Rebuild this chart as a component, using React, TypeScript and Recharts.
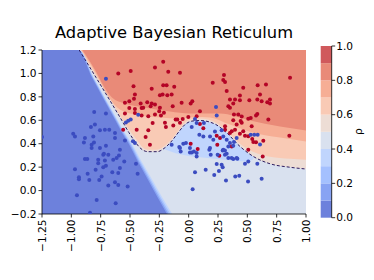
import React from 'react';
import { ComposedChart, Area, Line, Scatter, XAxis, YAxis, BarChart, Bar } from 'recharts';

const W = 374;
const H = 280;

const xTicks = [-1.25, -1, -0.75, -0.5, -0.25, 0, 0.25, 0.5, 0.75, 1];
const yTicks = [-0.2, 0, 0.2, 0.4, 0.6, 0.8, 1.0, 1.2];
const cbTicks = [0, 0.2, 0.4, 0.6, 0.8, 1.0];
const levels = [0, 0.1, 0.2, 0.3, 0.4, 0.5, 0.6, 0.7, 0.8, 0.9, 1.0];
const bandColors = ['#6d81dc', '#88a3f3', '#a4c0fe', '#c0d5fd', '#d9e1ef', '#edddd5', '#f9cab5', '#f6ae95', '#e98a78', '#d0595c'];

// contour lines: [x, y]
const plotBox = [[-1.25, 1.2], [1.0, 1.2]];
const contour10 = [[-1.25, 1.2], [-0.946, 1.2], [-0.824, 0.966], [-0.718, 0.769], [-0.624, 0.598], [-0.569, 0.495], [-0.522, 0.418], [-0.441, 0.264], [-0.347, 0.093], [-0.262, -0.063], [-0.185, -0.2]];
const contour20 = [[-1.25, 1.2], [-0.941, 1.2], [-0.818, 0.966], [-0.711, 0.769], [-0.616, 0.598], [-0.56, 0.495], [-0.512, 0.418], [-0.43, 0.264], [-0.335, 0.093], [-0.249, -0.063], [-0.171, -0.2]];
const contour30 = [[-1.25, 1.2], [-0.937, 1.2], [-0.813, 0.966], [-0.705, 0.769], [-0.609, 0.598], [-0.552, 0.495], [-0.503, 0.418], [-0.42, 0.264], [-0.323, 0.093], [-0.236, -0.063], [-0.156, -0.2]];
const contour40 = [[-1.25, 1.2], [-0.934, 1.2], [-0.809, 0.966], [-0.7, 0.769], [-0.603, 0.598], [-0.545, 0.495], [-0.494, 0.418], [-0.409, 0.264], [-0.31, 0.093], [-0.222, -0.063], [-0.14, -0.2]];
const hump40 = [[-0.219, 0.359], [-0.159, 0.336], [-0.074, 0.31], [0.011, 0.293], [0.096, 0.284], [0.224, 0.271], [0.352, 0.258], [0.48, 0.248], [0.54, 0.26], [0.557, 0.285]];
const contour50 = [[-0.933, 1.2], [-0.79, 0.966], [-0.671, 0.769], [-0.569, 0.598], [-0.509, 0.495], [-0.458, 0.418], [-0.407, 0.358], [-0.347, 0.332], [-0.27, 0.332], [-0.202, 0.366], [-0.142, 0.426], [-0.083, 0.503], [-0.032, 0.563], [0.028, 0.593], [0.096, 0.598], [0.165, 0.589], [0.233, 0.563], [0.318, 0.499], [0.437, 0.377], [0.548, 0.293], [0.693, 0.229], [0.864, 0.199], [1.0, 0.184]];
const contour60 = [[-0.922, 1.2], [-0.78, 0.966], [-0.661, 0.769], [-0.558, 0.598], [-0.496, 0.504], [-0.445, 0.435], [-0.398, 0.375], [-0.347, 0.349], [-0.27, 0.349], [-0.202, 0.384], [-0.142, 0.443], [-0.083, 0.52], [-0.032, 0.58], [0.028, 0.61], [0.096, 0.615], [0.165, 0.606], [0.233, 0.58], [0.318, 0.516], [0.437, 0.4], [0.548, 0.331], [0.693, 0.288], [0.864, 0.271], [1.0, 0.263]];
const contour70 = [[-0.914, 1.2], [-0.786, 0.992], [-0.705, 0.837], [-0.654, 0.76], [-0.586, 0.692], [-0.458, 0.649], [-0.245, 0.623], [-0.074, 0.615], [0.054, 0.627], [0.182, 0.623], [0.31, 0.58], [0.523, 0.503], [0.779, 0.452], [1.0, 0.418]];
const contour80 = [[-0.906, 1.2], [-0.79, 1.017], [-0.722, 0.889], [-0.654, 0.795], [-0.543, 0.743], [-0.373, 0.709], [-0.159, 0.675], [0.011, 0.658], [0.267, 0.658], [0.523, 0.598], [0.779, 0.546], [1.0, 0.512]];

const redPts = [
  [-0.47, 0.89], [-0.315, 0.87], [-0.217, 0.9], [-0.188, 0.9], [-0.123, 0.886], [-0.245, 0.814], [-0.222, 0.82], [-0.182, 0.814], [-0.145, 0.82], [-0.458, 0.82],
  [-0.466, 0.784], [-0.543, 0.749], [-0.506, 0.763], [-0.409, 0.743], [-0.387, 0.706], [-0.353, 0.754], [-0.315, 0.743], [-0.287, 0.735], [-0.245, 0.706], [-0.251, 0.677],
  [-0.236, 0.64], [-0.211, 0.664], [-0.136, 0.72], [-0.097, 0.606], [-0.06, 0.749], [0.017, 0.743], [0.068, 0.634], [-0.543, 0.657], [-0.458, 0.663], [-0.401, 0.64],
  [-0.344, 0.634], [-0.287, 0.649], [-0.202, 0.578], [-0.131, 0.555], [-0.074, 0.578], [-0.443, 0.52], [-0.344, 0.514], [-0.33, 0.392], [-0.217, 1.1], [-0.494, 1.02],
  [-0.6, 1.0], [-0.287, 1.05], [-0.174, 1.015], [-0.074, 1.006], [0.205, 0.921], [0.301, 0.986], [0.295, 0.943], [0.31, 0.926], [0.324, 0.849], [0.465, 0.878],
  [0.437, 0.812], [0.437, 0.771], [0.395, 0.777], [0.352, 0.777], [0.38, 0.743], [0.338, 0.72], [0.517, 0.771], [0.588, 0.9], [0.659, 0.906], [0.608, 0.82],
  [0.585, 0.777], [0.622, 0.763], [0.67, 0.754], [0.693, 0.777], [0.693, 0.743], [0.864, 0.963], [0.031, 0.763], [0.096, 0.677], [0.352, 0.706], [0.423, 0.649],
  [0.386, 0.649], [0.452, 0.632], [0.508, 0.613], [0.529, 0.62], [0.585, 0.654], [0.679, 0.606], [0.38, 0.6], [0.409, 0.563], [0.452, 0.578], [0.537, 0.549],
  [0.858, 0.469], [0.31, 0.52], [0.352, 0.492], [0.395, 0.52], [0.48, 0.469], [0.508, 0.463], [0.542, 0.441], [0.574, 0.64], [0.551, 0.415], [0.574, 0.412],
  [0.636, 0.426], [0.631, 0.29], [0.443, 0.593], [0.31, 0.549], [0.367, 0.506], [0.437, 0.486], [0.465, 0.506], [0.239, 0.469], [0.267, 0.449], [0.261, 0.297],
  [0.017, 0.4], [0.077, 0.354], [0.244, 0.391], [0.367, 0.377], [0.508, 0.349], [-0.003, 0.628], [0.096, 0.568], [0.125, 0.531], [-0.194, 0.543], [-0.307, 0.577],
  [-0.367, 0.457], [-0.558, 0.52], [-0.506, 0.705], [-0.458, 0.697], [-0.401, 0.705], [-0.324, 0.72], [-0.111, 0.606], [-0.051, 0.611],
];

const bluePts = [
  [-0.705, 0.954], [-0.805, 0.671], [-0.705, 0.657], [-0.833, 0.543], [-0.756, 0.514], [-0.714, 0.52], [-1.25, 0.457], [-0.984, 0.486], [-0.969, 0.462], [-0.884, 0.449],
  [-0.813, 0.462], [-0.827, 0.391], [-0.628, 0.449], [-0.543, 0.428], [-0.893, 0.411], [-0.807, 0.411], [-0.705, 0.383], [-0.827, 0.363], [-0.756, 0.363], [-0.728, 0.306],
  [-0.685, 0.306], [-0.594, 0.3], [-0.884, 0.269], [-0.864, 0.269], [-0.771, 0.263], [-0.771, 0.234], [-0.714, 0.257], [-0.643, 0.263], [-0.614, 0.277], [-0.549, 0.248],
  [-0.586, 0.192], [-0.705, 0.211], [-0.728, 0.2], [-0.969, 0.183], [-0.793, 0.177], [-0.651, 0.157], [-0.6, 0.149], [-0.861, 0.143], [-0.935, 0.114], [-0.935, 0.097],
  [-0.847, 0.091], [-0.762, 0.091], [-0.742, 0.12], [-0.449, 0.228], [-0.435, 0.143], [-0.628, 0.071], [-0.6, 0.048], [-0.685, 0.043], [-0.52, 0.034], [-0.952, -0.04],
  [-0.784, -0.08], [-0.622, -0.108], [-0.841, -0.189], [-0.475, 0.42], [-0.586, 0.348], [-0.458, 0.406], [-0.799, 0.563], [-0.677, 0.52], [-0.628, 0.491], [-0.722, 0.314],
  [-0.535, 0.582], [-0.494, 0.606], [-0.43, 0.648], [-0.515, 0.595],
  [-0.145, 0.391], [-0.08, 0.371], [-0.068, 0.334], [-0.023, 0.406], [0.011, 0.325], [0.068, 0.32], [0.176, 0.348], [0.054, 0.157], [0.145, 0.177], [0.034, 0.012],
  [-0.046, 0.4], [0.026, 0.325], [0.188, 0.306], [0.247, 0.306], [0.29, 0.343], [0.309, 0.343], [0.338, 0.377], [0.38, 0.383], [0.324, 0.314], [0.338, 0.277],
  [0.38, 0.269], [0.415, 0.271], [0.48, 0.228], [0.508, 0.248], [0.585, 0.228], [0.608, 0.394], [0.239, 0.226], [0.281, 0.22], [0.29, 0.2], [0.258, 0.168],
  [0.218, 0.132], [0.318, 0.085], [0.397, 0.12], [0.431, 0.126], [0.506, 0.077], [0.622, 0.1], [0.233, 0.714], [0.239, 0.64], [0.068, 0.577], [0.13, 0.577],
  [0.026, 0.543], [0.091, 0.477], [0.125, 0.462], [0.182, 0.462], [0.21, 0.434], [0.224, 0.505], [0.281, 0.514], [0.295, 0.462], [0.324, 0.434], [0.352, 0.406],
  [0.386, 0.414], [0.409, 0.449], [0.529, 0.477], [0.559, 0.477], [0.588, 0.477], [0.045, 0.334], [0.182, 0.363], [0.295, 0.348], [0.309, 0.306], [0.366, 0.277],
  [0.409, 0.277], [0.054, 0.611], [0.011, 0.363], [-0.074, 0.363], [0.068, 0.291],
];

const pts = (a: number[][]) => a.map(([x, y]) => ({ x, y }));

const FONT = 'DejaVu Sans';
const fmtX = (v: number) => (v < -1e-9 ? '\u2212' : '') + Math.abs(v).toFixed(2);
const fmtY = (v: number) => (v < -1e-9 ? '\u2212' : '') + Math.abs(v).toFixed(1);

const XTick = (props: any) => {
  const { x, y, payload } = props;
  return (
    <text x={x} y={y} transform={`rotate(-90, ${x}, ${y})`} textAnchor="end" dominantBaseline="central" fontSize={10.6} fill="#000" fontFamily={FONT}>
      {fmtX(payload.value)}
    </text>
  );
};

const makeDot = (color: string) => (props: any) => <circle cx={props.cx} cy={props.cy} r={2} fill={color} />;

const regions: { data: number[][]; color: string; base: number }[] = [
  { data: plotBox, color: bandColors[4], base: -0.2 },
  { data: hump40, color: bandColors[3], base: 1.2 },
  { data: contour50, color: bandColors[5], base: 1.2 },
  { data: contour60, color: bandColors[6], base: 1.2 },
  { data: contour70, color: bandColors[7], base: 1.2 },
  { data: contour80, color: bandColors[8], base: 1.2 },
  { data: contour40, color: bandColors[3], base: -0.2 },
  { data: contour30, color: bandColors[2], base: -0.2 },
  { data: contour20, color: bandColors[1], base: -0.2 },
  { data: contour10, color: bandColors[0], base: -0.2 },
];

const cbRow: Record<string, any> = { name: 'cb' };
bandColors.forEach((_, i) => {
  cbRow['b' + i] = +(levels[i + 1] - levels[i]).toFixed(2);
});
const cbData = [cbRow];

export default function App() {
  return (
    <div style={{ position: 'absolute', left: 0, top: 0, width: W, height: H, background: '#fff', fontFamily: FONT }}>
      <div style={{ position: 'absolute', left: 0, top: 0 }}>
        <ComposedChart width={W} height={H} margin={{ top: 50, right: 68, bottom: 0, left: 0 }}>
          <XAxis
            type="number"
            dataKey="x"
            domain={[-1.25, 1]}
            ticks={xTicks}
            interval={0}
            allowDataOverflow
            height={66}
            tickSize={3.5}
            tickMargin={2}
            tick={<XTick />}
            axisLine={{ stroke: '#000', strokeWidth: 0.8 }}
            tickLine={{ stroke: '#000', strokeWidth: 0.8 }}
          />
          <XAxis xAxisId="top" orientation="top" type="number" domain={[-1.25, 1]} height={0} tick={false} tickLine={false} axisLine={{ stroke: '#000', strokeWidth: 0.8 }} />
          <YAxis
            type="number"
            dataKey="y"
            domain={[-0.2, 1.2]}
            ticks={yTicks}
            interval={0}
            allowDataOverflow
            width={42}
            tickSize={3.5}
            tickMargin={2}
            tickFormatter={fmtY}
            tick={{ fontSize: 10.6, fill: '#000', fontFamily: FONT }}
            axisLine={{ stroke: '#000', strokeWidth: 0.8 }}
            tickLine={{ stroke: '#000', strokeWidth: 0.8 }}
          />
          <YAxis yAxisId="right" orientation="right" type="number" domain={[-0.2, 1.2]} width={0} tick={false} tickLine={false} axisLine={{ stroke: '#000', strokeWidth: 0.8 }} />
          {regions.map((r, i) => (
            <Area
              key={'r' + i}
              data={pts(r.data)}
              dataKey="y"
              type="monotone"
              baseValue={r.base}
              fill={r.color}
              fillOpacity={1}
              stroke="none"
              dot={false}
              activeDot={false}
              isAnimationActive={false}
            />
          ))}
          <Line
            data={pts(contour50)}
            dataKey="y"
            type="monotone"
            stroke="#2d1b5e"
            strokeWidth={1}
            strokeDasharray="3 2"
            dot={false}
            activeDot={false}
            isAnimationActive={false}
          />
          <Scatter data={pts(redPts)} fill="#b40426" shape={makeDot('#b40426')} isAnimationActive={false} />
          <Scatter data={pts(bluePts)} fill="#3b4cc0" shape={makeDot('#3b4cc0')} isAnimationActive={false} />
        </ComposedChart>
      </div>
      <div style={{ position: 'absolute', left: 0, top: 0 }}>
        <BarChart width={W} height={H} data={cbData} barCategoryGap={0} barGap={0} margin={{ top: 46, right: 2.3, bottom: 62.3, left: 320.7 }}>
          <XAxis dataKey="name" height={0} tick={false} tickLine={false} axisLine={{ stroke: '#000', strokeWidth: 0.8 }} />
          <XAxis xAxisId="t" orientation="top" dataKey="name" height={0} tick={false} tickLine={false} axisLine={{ stroke: '#000', strokeWidth: 0.8 }} />
          <YAxis yAxisId="l" orientation="left" type="number" domain={[0, 1]} width={0} tick={false} tickLine={false} axisLine={{ stroke: '#000', strokeWidth: 0.8 }} />
          <YAxis
            orientation="right"
            type="number"
            domain={[0, 1]}
            ticks={cbTicks}
            interval={0}
            width={40}
            tickSize={3.5}
            tickMargin={1}
            tickFormatter={(v: number) => v.toFixed(1)}
            tick={{ fontSize: 10.6, fill: '#000', fontFamily: FONT }}
            axisLine={{ stroke: '#000', strokeWidth: 0.8 }}
            tickLine={{ stroke: '#000', strokeWidth: 0.8 }}
          />
          {bandColors.map((c, i) => (
            <Bar key={'b' + i} dataKey={'b' + i} stackId="s" fill={c} isAnimationActive={false} />
          ))}
        </BarChart>
      </div>
      <svg width={W} height={H} style={{ position: 'absolute', left: 0, top: 0, pointerEvents: 'none' }}>
        <text x={174} y={38.3} textAnchor="middle" fontSize={16.3} fontFamily={FONT} fill="#000">
          Adaptive Bayesian Reticulum
        </text>
        <text x={362} y={131.7} transform="rotate(-90, 362, 131.7)" textAnchor="middle" fontSize={10.6} fontFamily={FONT} fill="#000">
          ρ
        </text>
      </svg>
    </div>
  );
}
